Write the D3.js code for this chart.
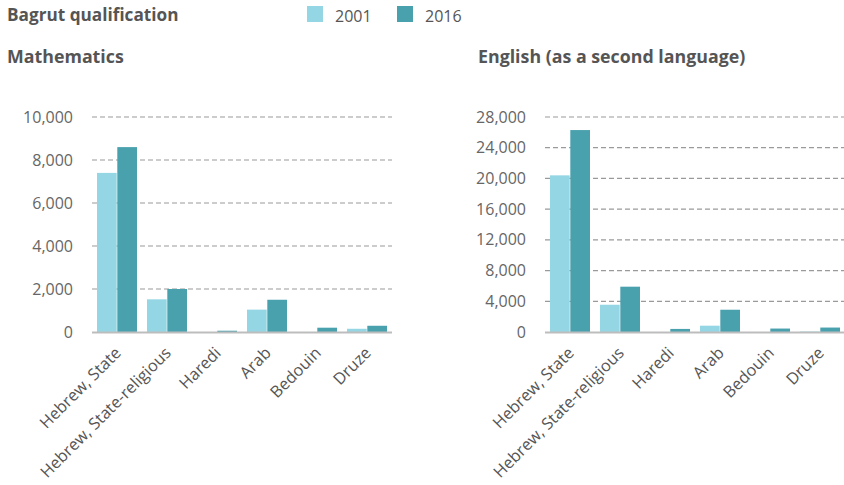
<!DOCTYPE html>
<html>
<head>
<meta charset="utf-8">
<script src="https://cdn.jsdelivr.net/npm/d3@7"></script>
<style>
  body { margin: 0; background: #fff; }
  svg text { font-family: "Open Sans", sans-serif; }
</style>
</head>
<body>
<div id="chart"></div>
<script>
const width = 844,
  height = 485;

// data
const groups = ["Hebrew, State", "Hebrew, State-religious", "Haredi", "Arab", "Bedouin", "Druze"];
const years = ["2001", "2016"];
const math2001 = [7400, 1520, 0, 1040, 0, 150];
const math2016 = [8600, 2000, 60, 1500, 200, 290];
const eng2001 = [20400, 3550, 0, 820, 0, 60];
const eng2016 = [26300, 5900, 400, 2900, 450, 580];
const mathTicks = [0, 2000, 4000, 6000, 8000, 10000];
const engTicks = [0, 4000, 8000, 12000, 16000, 20000, 24000, 28000];

const colors = d3.scaleOrdinal().domain(years).range(["#94d6e3", "#4aa1ae"]);

const svg = d3.select("#chart")
  .append("svg")
  .attr("width", width)
  .attr("height", height);

// header
svg.append("text")
  .attr("x", 7).attr("y", 21)
  .attr("font-size", 17.2).attr("font-weight", "bold")
  .attr("fill", "#555")
  .text("Bagrut qualification");

const legend = svg.append("g")
  .selectAll("g")
  .data(years)
  .join("g")
  .attr("transform", (d, i) => `translate(${307 + i * 90},6)`);
legend.append("rect")
  .attr("width", 16).attr("height", 16)
  .attr("fill", d => colors(d));
legend.append("text")
  .attr("x", 28).attr("y", 15.5)
  .attr("font-size", 16).attr("fill", "#555")
  .text(d => d);

function drawPanel(opts) {
  const { title, titleX, x0, x1, max, ticks, v2001, v2016 } = opts;
  const g = svg.append("g");

  g.append("text")
    .attr("x", titleX).attr("y", 63)
    .attr("font-size", 17.8).attr("font-weight", "bold")
    .attr("fill", "#555")
    .text(title);

  const x = d3.scaleBand()
    .domain(groups)
    .range([x0, x1])
    .paddingInner(0.2)
    .paddingOuter(0.1);
  const xs = d3.scaleBand()
    .domain(years)
    .range([0, x.bandwidth()])
    .paddingInner(0.03);
  const y = d3.scaleLinear()
    .domain([0, max])
    .range([332, 117]);

  // gridlines
  g.append("g")
    .selectAll("line")
    .data(ticks.filter(t => t > 0))
    .join("line")
    .attr("x1", x0).attr("x2", x1)
    .attr("y1", d => y(d)).attr("y2", d => y(d))
    .attr("stroke", "#9a9a9a")
    .attr("stroke-width", 1.2)
    .attr("stroke-dasharray", "5,3");

  g.append("g")
    .selectAll("text")
    .data(ticks)
    .join("text")
    .attr("x", x0 - 19)
    .attr("y", d => y(d))
    .attr("dy", "0.35em")
    .attr("text-anchor", "end")
    .attr("font-size", 16)
    .attr("fill", "#666")
    .text(d => d3.format(",")(d));

  const rows = groups.map((grp, i) => ({ grp, vals: [v2001[i], v2016[i]] }));

  g.append("g")
    .selectAll("g")
    .data(rows)
    .join("g")
    .attr("transform", d => `translate(${x(d.grp)},0)`)
    .selectAll("rect")
    .data(d => d.vals.map((v, j) => ({ year: years[j], v })))
    .join("rect")
    .attr("x", d => xs(d.year))
    .attr("width", xs.bandwidth())
    .attr("y", d => y(d.v))
    .attr("height", d => y(0) - y(d.v))
    .attr("fill", d => colors(d.year));

  // baseline
  g.append("line")
    .attr("x1", x0).attr("x2", x1)
    .attr("y1", y(0) + 0.5).attr("y2", y(0) + 0.5)
    .attr("stroke", "#bdbdbd")
    .attr("stroke-width", 2);

  g.append("g")
    .selectAll("text")
    .data(groups)
    .join("text")
    .attr("transform", d => `translate(${x(d) + x.bandwidth() / 2 + 5},${354}) rotate(-45)`)
    .attr("text-anchor", "end")
    .attr("font-size", 16.3)
    .attr("fill", "#555")
    .text(d => d);
}

drawPanel({
  title: "Mathematics", titleX: 7,
  x0: 92, x1: 392, max: 10000, ticks: mathTicks,
  v2001: math2001, v2016: math2016
});

drawPanel({
  title: "English (as a second language)", titleX: 478,
  x0: 545, x1: 845, max: 28000, ticks: engTicks,
  v2001: eng2001, v2016: eng2016
});
</script>
</body>
</html>
